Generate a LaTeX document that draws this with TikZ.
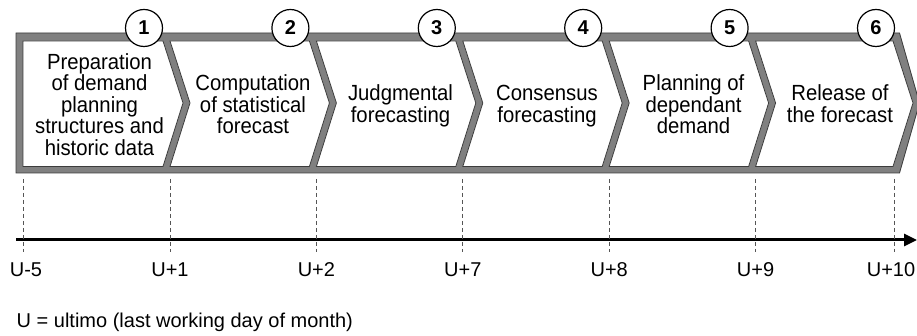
\documentclass[tikz,border=0pt]{standalone}
\usepackage{fontspec}
\usepackage{graphicx}
\setmainfont{Liberation Sans}
\usetikzlibrary{arrows.meta}
\definecolor{bandgray}{HTML}{808080}
\definecolor{edgegray}{HTML}{3C3C3C}
\definecolor{tickgray}{HTML}{555555}
% step caption: slightly tall lettering, tight leading, first baseline as reference point
\newcommand\stepbody[1]{\scalebox{1}[1.08]{\parbox[t]{150pt}{\centering\fontsize{20.3}{19.9}\selectfont\lineskiplimit=-30pt\relax #1}}}
\begin{document}
\begin{tikzpicture}[x=1pt,y=-1pt,
  frame/.style={fill=bandgray,draw=edgegray,line width=0.8pt,line join=miter},
  chevron/.style={fill=white,draw=edgegray,line width=0.8pt,line join=miter},
  stepnum/.style={circle,draw=black,fill=white,line width=1.2pt,minimum size=37pt,inner sep=0pt,font=\fontsize{20}{23}\selectfont\bfseries},
  steptext/.style={anchor=base,inner sep=0pt},
  ticklbl/.style={inner sep=0pt,font=\fontsize{20}{23}\selectfont},
  tickline/.style={draw=tickgray,line width=0.8pt,dash pattern=on 4pt off 3pt},
  axisline/.style={draw=black,line width=3pt,-{Triangle[length=13pt,width=12pt]}}
]
\useasboundingbox (0,0) rectangle (917,336);

% outer grey band with arrow point on the right
\path[frame] (16,33) -- (899.5,33) -- (919.5,103) -- (899.5,173) -- (16,173) -- cycle;

% first (flat-backed) white chevron
\path[chevron] (23,41) -- (163,41) -- (183,103) -- (163,166.5) -- (23,166.5) -- cycle;
% remaining chevrons, 146.4 apart
\foreach \i in {2,...,6}{
  \pgfmathsetmacro\L{170+146.4*(\i-2)}
  \pgfmathsetmacro\R{ifthenelse(\i==6,893,309.4+146.4*(\i-2))}
  \path[chevron] (\L,41) -- (\R,41) -- ({\R+20},103) -- (\R,166.5) -- (\L,166.5) -- ({\L+20},103) -- cycle;
}

% step texts (placed by first baseline)
\node[steptext] (t1) at (99.5,69.5) {\stepbody{Preparation\\of demand\\planning\\structures and\\historic data}};
\node[steptext] (t2) at (253,90.8) {\stepbody{Computation\\of statistical\\forecast}};
\node[steptext] (t3) at (400.5,101) {\stepbody{Judgmental\\forecasting}};
\node[steptext] (t4) at (547,101) {\stepbody{Consensus\\forecasting}};
\node[steptext] (t5) at (693.5,90.8) {\stepbody{Planning of\\dependant\\demand}};
\node[steptext] (t6) at (840,101) {\stepbody{Release of\\the forecast}};

% numbered circles
\foreach \i in {1,...,6}{
  \node[stepnum] (n\i) at ({144+146.4*(\i-1)},28) {\i};
}

% time axis
\coordinate (axL) at (16,240);
\coordinate (axR) at (917,240);
\draw[axisline] (axL) -- (axR);

% dashed milestone markers
\foreach \x/\nm in {23/m0,170/m1,316.4/m2,462.8/m3,609.2/m4,755.6/m5,894/m6}{
  \coordinate (\nm top) at (\x,179);
  \coordinate (\nm bot) at (\x,252);
  \draw[tickline] (\nm top) -- (\nm bot);
}
\node[ticklbl] (l0) at (26,270) {U-5};
\node[ticklbl] (l1) at (170,270) {U+1};
\node[ticklbl] (l2) at (316.4,270) {U+2};
\node[ticklbl] (l3) at (462.8,270) {U+7};
\node[ticklbl] (l4) at (609.2,270) {U+8};
\node[ticklbl] (l5) at (755.6,270) {U+9};
\node[ticklbl] (l6) at (891,270) {U+10};

% legend
\node[ticklbl,anchor=base west] (legend) at (16.5,327) {U = ultimo (last working day of month)};
\end{tikzpicture}
\end{document}
